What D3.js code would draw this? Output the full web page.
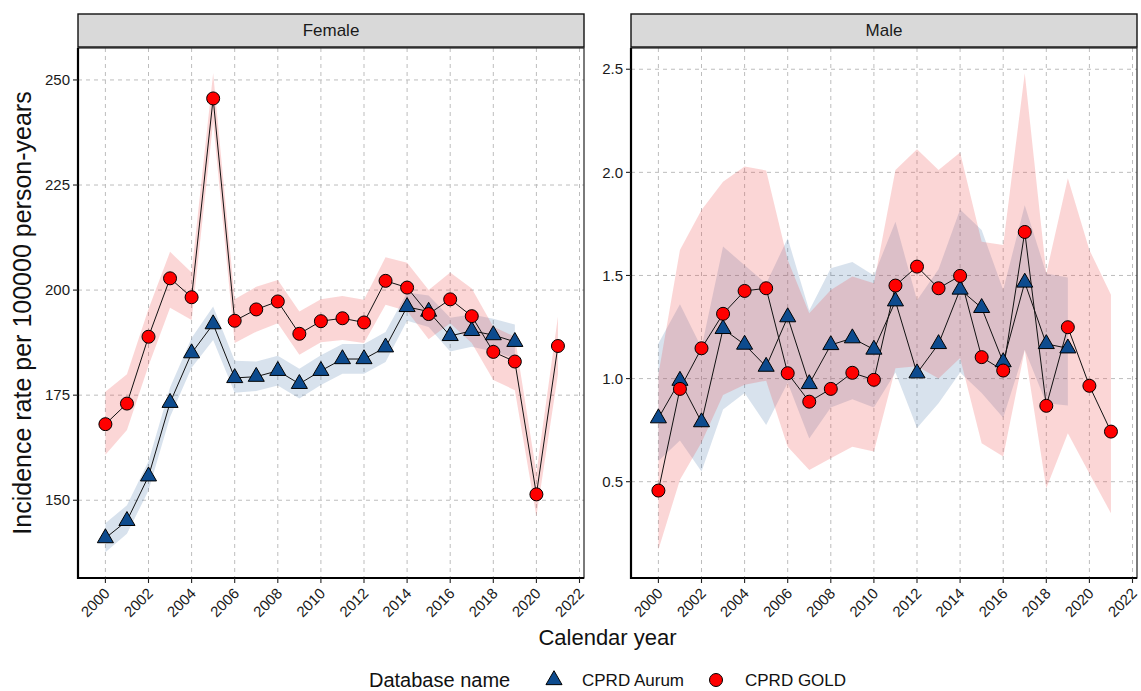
<!DOCTYPE html>
<html>
<head>
<meta charset="utf-8">
<script src="https://cdn.jsdelivr.net/npm/d3@7"></script>
<style>
  body { margin: 0; background: #fff; }
  text { font-family: "Liberation Sans", Arial, sans-serif; }
</style>
</head>
<body>
<svg id="chart" width="1141" height="691"></svg>
<script>
// ---- data -----------------------------------------------------------
const yearsAurum = [2000,2001,2002,2003,2004,2005,2006,2007,2008,2009,2010,
                    2011,2012,2013,2014,2015,2016,2017,2018,2019];
const yearsGold  = [2000,2001,2002,2003,2004,2005,2006,2007,2008,2009,2010,
                    2011,2012,2013,2014,2015,2016,2017,2018,2019,2020,2021];

// Female, incidence per 100000 person-years
const femaleAurum   = [141.0,145.1,155.7,173.2,185.0,191.9,179.1,179.4,180.8,177.7,
                       180.8,183.6,183.6,186.4,196.0,194.9,189.1,190.3,189.3,187.7];
const femaleAurumLo = [137.6,142.0,152.3,169.8,181.5,188.1,175.6,176.0,177.3,174.2,
                       177.4,180.1,180.1,182.9,192.7,191.2,185.4,186.5,185.4,183.7];
const femaleAurumHi = [144.5,148.8,159.3,176.8,188.6,196.1,183.2,183.0,184.4,181.3,
                       184.5,187.2,187.2,190.0,199.4,198.7,193.4,194.2,193.2,191.8];

const femaleGold   = [168.1,173.0,188.9,202.8,198.3,245.6,192.7,195.4,197.3,189.6,192.6,
                      193.3,192.3,202.2,200.6,194.3,197.8,193.8,185.3,183.0,151.4,186.7];
const femaleGoldLo = [160.8,166.7,182.0,195.8,192.9,240.0,187.4,190.1,192.1,184.6,187.6,
                      188.1,187.4,196.5,195.0,188.3,192.1,187.4,178.6,176.2,146.2,180.0];
const femaleGoldHi = [175.8,180.0,195.5,209.1,204.2,251.6,197.8,200.8,202.4,194.9,197.8,
                      198.6,197.7,207.8,206.5,200.0,204.2,200.4,191.3,188.9,156.5,193.7];

// Male, incidence per 100000 person-years
const maleAurum   = [0.808,0.990,0.789,1.241,1.165,1.058,1.298,0.974,1.163,1.196,
                     1.141,1.375,1.026,1.168,1.432,1.343,1.080,1.466,1.168,1.147];
const maleAurumLo = [0.60,0.70,0.55,0.85,0.93,0.775,0.98,0.71,0.86,0.90,
                     0.86,1.03,0.76,0.88,1.03,0.93,0.81,1.14,0.88,0.87];
const maleAurumHi = [1.17,1.36,1.15,1.64,1.55,1.46,1.68,1.33,1.535,1.565,
                     1.50,1.76,1.38,1.53,1.82,1.72,1.43,1.84,1.51,1.49];

const maleGold   = [0.457,0.950,1.147,1.314,1.425,1.438,1.026,0.888,0.950,1.028,0.994,
                    1.451,1.543,1.438,1.498,1.104,1.039,1.711,0.868,1.249,0.965,0.743];
const maleGoldLo = [0.17,0.51,0.69,0.92,0.97,0.99,0.67,0.557,0.614,0.67,0.646,
                    1.05,1.06,1.00,1.10,0.687,0.622,1.139,0.468,0.735,0.54,0.347];
const maleGoldHi = [1.02,1.624,1.818,1.955,2.028,2.009,1.575,1.317,1.43,1.495,1.462,
                    2.012,2.112,2.012,2.096,1.664,1.648,2.481,1.51,1.972,1.624,1.406];

const xTicks      = [2000,2002,2004,2006,2008,2010,2012,2014,2016,2018,2020,2022];
const femaleTicks = [150,175,200,225,250];
const maleTicks   = [0.5,1.0,1.5,2.0,2.5];
const maleTickLabels = ["0.5","1.0","1.5","2.0","2.5"];

const databases = ["CPRD Aurum","CPRD GOLD"];

// ---- layout ---------------------------------------------------------
const W = 1141, H = 691;
const panelTop = 48, panelBottom = 578, panelW = 506;
const stripTop = 14, stripH = 33;

const colors = {
  aurumFill: "#0d4b8e", goldFill: "#ff0000",
  aurumBand: "#3b6ea5", goldBand: "#ee4444"
};

function zip(years, v, lo, hi) {
  return years.map((y, i) => ({ year: y, v: v[i], lo: lo[i], hi: hi[i] }));
}

const panels = [
  { name: "Female", x0: 78, yDomain: [131.5, 257.6], ticks: femaleTicks,
    tickLabels: femaleTicks.map(String),
    aurum: zip(yearsAurum, femaleAurum, femaleAurumLo, femaleAurumHi),
    gold:  zip(yearsGold, femaleGold, femaleGoldLo, femaleGoldHi) },
  { name: "Male", x0: 631, yDomain: [0.033, 2.603], ticks: maleTicks,
    tickLabels: maleTickLabels,
    aurum: zip(yearsAurum, maleAurum, maleAurumLo, maleAurumHi),
    gold:  zip(yearsGold, maleGold, maleGoldLo, maleGoldHi) }
];

const svg = d3.select("#chart");
svg.append("rect").attr("width", W).attr("height", H).attr("fill", "#fff");

const triSymbol = d3.symbol().type(d3.symbolTriangle).size(112);
const pointR = 6.5;

panels.forEach(p => {
  const x = d3.scaleLinear().domain([2000, 2022]).range([p.x0 + 27.4, p.x0 + 501.5]);
  const y = d3.scaleLinear().domain(p.yDomain).range([panelBottom, panelTop]);
  const g = svg.append("g");

  // grid
  g.append("g").selectAll("line").data(xTicks).join("line")
    .attr("x1", d => x(d)).attr("x2", d => x(d))
    .attr("y1", panelTop).attr("y2", panelBottom)
    .attr("stroke", "#bdbdbd").attr("stroke-width", 1).attr("stroke-dasharray", "4,4");
  g.append("g").selectAll("line").data(p.ticks).join("line")
    .attr("x1", p.x0).attr("x2", p.x0 + panelW)
    .attr("y1", d => y(d)).attr("y2", d => y(d))
    .attr("stroke", "#bdbdbd").attr("stroke-width", 1).attr("stroke-dasharray", "4,4");

  // confidence bands
  const area = d3.area().x(d => x(d.year)).y0(d => y(d.lo)).y1(d => y(d.hi));
  g.append("path").datum(p.aurum).attr("d", area)
    .attr("fill", colors.aurumBand).attr("fill-opacity", 0.2);
  g.append("path").datum(p.gold).attr("d", area)
    .attr("fill", colors.goldBand).attr("fill-opacity", 0.22);

  // lines
  const line = d3.line().x(d => x(d.year)).y(d => y(d.v));
  [p.aurum, p.gold].forEach(series => {
    g.append("path").datum(series).attr("d", line)
      .attr("fill", "none").attr("stroke", "#111").attr("stroke-width", 1);
  });

  // markers
  g.append("g").selectAll("path").data(p.aurum).join("path")
    .attr("d", triSymbol)
    .attr("transform", d => `translate(${x(d.year)},${y(d.v)})`)
    .attr("fill", colors.aurumFill).attr("stroke", "#000").attr("stroke-width", 1);
  g.append("g").selectAll("circle").data(p.gold).join("circle")
    .attr("cx", d => x(d.year)).attr("cy", d => y(d.v)).attr("r", pointR)
    .attr("fill", colors.goldFill).attr("stroke", "#000").attr("stroke-width", 1);

  // panel frame
  g.append("rect").attr("x", p.x0).attr("y", panelTop)
    .attr("width", panelW).attr("height", panelBottom - panelTop)
    .attr("fill", "none").attr("stroke", "#222").attr("stroke-width", 1.2);
  // axis lines
  g.append("line").attr("x1", p.x0).attr("x2", p.x0)
    .attr("y1", panelTop).attr("y2", panelBottom + 1)
    .attr("stroke", "#000").attr("stroke-width", 2.2);
  g.append("line").attr("x1", p.x0 - 1).attr("x2", p.x0 + panelW)
    .attr("y1", panelBottom).attr("y2", panelBottom)
    .attr("stroke", "#000").attr("stroke-width", 2.2);

  // y ticks
  const yt = g.append("g").selectAll("g").data(p.ticks).join("g")
    .attr("transform", d => `translate(${p.x0},${y(d)})`);
  yt.append("line").attr("x1", -5).attr("x2", 0).attr("stroke", "#222").attr("stroke-width", 1.1);
  yt.append("text").attr("x", -8).attr("dy", "0.35em").attr("text-anchor", "end")
    .attr("font-size", 15).attr("fill", "#1a1a1a")
    .text((d, i) => p.tickLabels[i]);

  // x ticks
  const xt = g.append("g").selectAll("g").data(xTicks).join("g")
    .attr("transform", d => `translate(${x(d)},${panelBottom})`);
  xt.append("line").attr("y1", 0).attr("y2", 5).attr("stroke", "#222").attr("stroke-width", 1.1);
  xt.append("text")
    .attr("transform", "translate(-1,10) rotate(-45)")
    .attr("text-anchor", "end").attr("dy", "0.6em")
    .attr("font-size", 15).attr("fill", "#1a1a1a")
    .text(d => String(d));

  // strip
  g.append("rect").attr("x", p.x0).attr("y", stripTop)
    .attr("width", panelW).attr("height", stripH)
    .attr("fill", "#d9d9d9").attr("stroke", "#111").attr("stroke-width", 1.4);
  g.append("text").attr("x", p.x0 + panelW / 2).attr("y", stripTop + stripH / 2)
    .attr("dy", "0.35em").attr("text-anchor", "middle")
    .attr("font-size", 17).attr("fill", "#1a1a1a").text(p.name);
});

// axis titles
svg.append("text")
  .attr("transform", `translate(31,${(panelTop + panelBottom) / 2}) rotate(-90)`)
  .attr("text-anchor", "middle").attr("font-size", 25).attr("fill", "#111")
  .text("Incidence rate per 100000 person-years");
svg.append("text")
  .attr("x", (78 + 631 + panelW) / 2).attr("y", 645)
  .attr("text-anchor", "middle").attr("font-size", 22).attr("fill", "#111")
  .text("Calendar year");

// legend
const leg = svg.append("g").attr("transform", "translate(0,680)");
leg.append("text").attr("x", 369).attr("dy", "0.35em")
  .attr("font-size", 20).attr("fill", "#111").text("Database name");
leg.append("path").attr("d", triSymbol)
  .attr("transform", "translate(554,0)")
  .attr("fill", colors.aurumFill).attr("stroke", "#000").attr("stroke-width", 1);
leg.append("text").attr("x", 582).attr("dy", "0.35em")
  .attr("font-size", 17).attr("fill", "#111").text(databases[0]);
leg.append("circle").attr("cx", 716).attr("cy", 0).attr("r", pointR)
  .attr("fill", colors.goldFill).attr("stroke", "#000").attr("stroke-width", 1);
leg.append("text").attr("x", 745).attr("dy", "0.35em")
  .attr("font-size", 17).attr("fill", "#111").text(databases[1]);
</script>
</body>
</html>
